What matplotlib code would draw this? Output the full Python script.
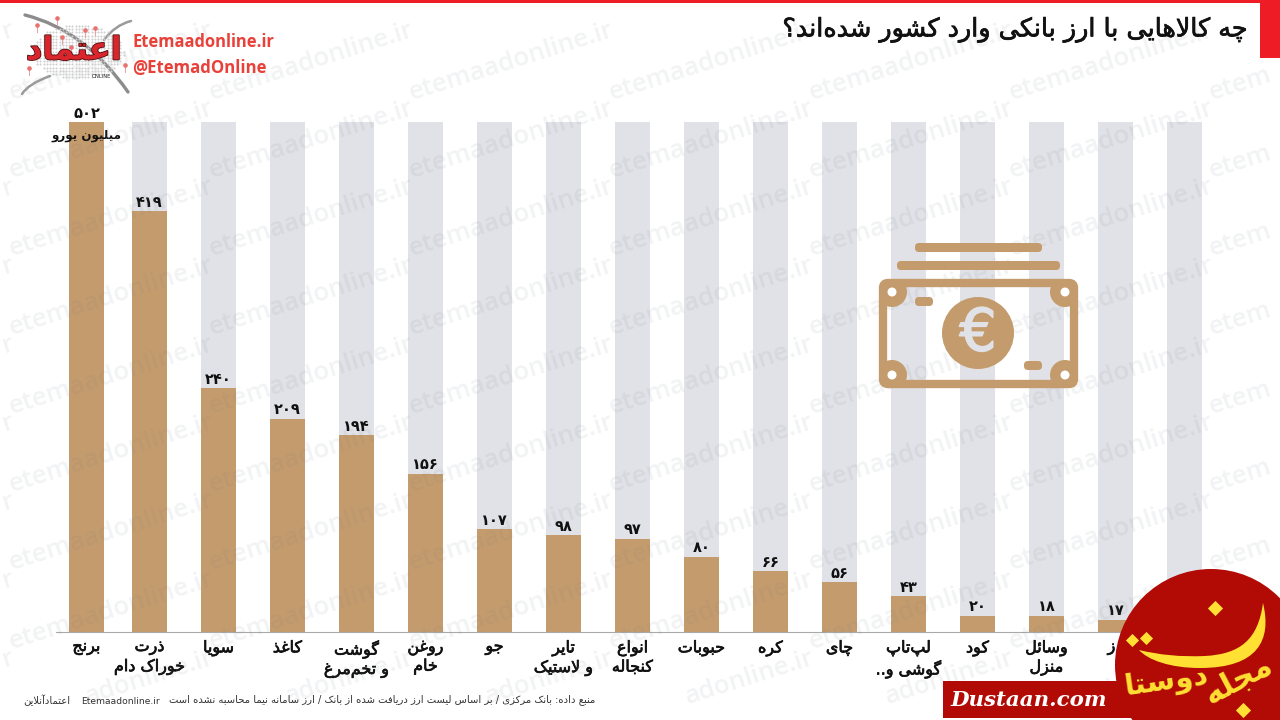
#!/usr/bin/env python3
# coding: utf-8

import numpy as np
import matplotlib
matplotlib.use('Agg')
import matplotlib.pyplot as plt
import matplotlib.patheffects as pe
from matplotlib.font_manager import FontProperties
from matplotlib.patches import Circle, FancyBboxPatch, PathPatch, Rectangle
from matplotlib.path import Path
from matplotlib.textpath import TextPath
from matplotlib.transforms import ScaledTranslation

categories = ['برنج', 'ذرت\nخوراک دام', 'سویا', 'کاغذ', 'گوشت\nو تخم‌مرغ', 'روغن\nخام', 'جو',
              'تایر\nو لاستیک', 'انواع\nکنجاله', 'حبوبات', 'کره', 'چای', 'لپ‌تاپ\nگوشی و..',
              'کود', 'وسائل\nمنزل', 'ز', '']
# numbers printed above the bars
printed_values = [502, 419, 240, 209, 194, 156, 107, 98, 97, 80, 66, 56, 43, 20, 18, 17]
# lengths as drawn in the picture, they differ a little from the printed numbers
bar_lengths = [502, 414, 240, 210, 194, 156, 101, 95, 92, 74, 60, 49, 35, 16, 16, 12]
track_max = 502

title = 'چه کالاهایی با ارز بانکی وارد کشور شده‌اند؟'
unit_label = 'میلیون یورو'
source = 'منبع داده: بانک مرکزی / بر اساس لیست ارز دریافت شده از بانک / ارز سامانه نیما محاسبه نشده است'
watermark = 'etemaadonline.ir'

TAN = '#c49b6c'
GREY = '#e0e2e7'
RED = '#ee1c25'
BADGE = '#b20a05'
YELLOW = '#ffe033'
INK = '#111111'

# iso, final, initial, medial
FORMS = {
    'ا': (0xFE8D, 0xFE8E), 'آ': (0xFE81, 0xFE82), 'د': (0xFEA9, 0xFEAA), 'ذ': (0xFEAB, 0xFEAC),
    'ر': (0xFEAD, 0xFEAE), 'ز': (0xFEAF, 0xFEB0), 'ژ': (0xFB8A, 0xFB8B), 'و': (0xFEED, 0xFEEE),
    'ب': (0xFE8F, 0xFE90, 0xFE91, 0xFE92), 'پ': (0xFB56, 0xFB57, 0xFB58, 0xFB59),
    'ت': (0xFE95, 0xFE96, 0xFE97, 0xFE98), 'ج': (0xFE9D, 0xFE9E, 0xFE9F, 0xFEA0),
    'چ': (0xFB7A, 0xFB7B, 0xFB7C, 0xFB7D), 'ح': (0xFEA1, 0xFEA2, 0xFEA3, 0xFEA4),
    'خ': (0xFEA5, 0xFEA6, 0xFEA7, 0xFEA8), 'س': (0xFEB1, 0xFEB2, 0xFEB3, 0xFEB4),
    'ش': (0xFEB5, 0xFEB6, 0xFEB7, 0xFEB8), 'ع': (0xFEC9, 0xFECA, 0xFECB, 0xFECC),
    'غ': (0xFECD, 0xFECE, 0xFECF, 0xFED0), 'ف': (0xFED1, 0xFED2, 0xFED3, 0xFED4),
    'ق': (0xFED5, 0xFED6, 0xFED7, 0xFED8), 'ک': (0xFB8E, 0xFB8F, 0xFB90, 0xFB91),
    'گ': (0xFB92, 0xFB93, 0xFB94, 0xFB95), 'ل': (0xFEDD, 0xFEDE, 0xFEDF, 0xFEE0),
    'م': (0xFEE1, 0xFEE2, 0xFEE3, 0xFEE4), 'ن': (0xFEE5, 0xFEE6, 0xFEE7, 0xFEE8),
    'ه': (0xFEE9, 0xFEEA, 0xFEEB, 0xFEEC), 'ی': (0xFBFC, 0xFBFD, 0xFBFE, 0xFBFF),
    'ئ': (0xFE89, 0xFE8A, 0xFE8B, 0xFE8C),
}


def shape_line(line):
    # matplotlib has no bidi or joining, so pick the presentation forms by hand and reverse
    line = line.replace('لا', '\uFEFB')
    out = []
    for i, ch in enumerate(line):
        if ch == '\u200c':
            continue
        if ch == '\uFEFB':
            joined = i > 0 and len(FORMS.get(line[i - 1], ())) == 4
            out.append('\uFEFC' if joined else '\uFEFB')
            continue
        forms = FORMS.get(ch)
        if forms is None:
            out.append(ch)
            continue
        prev_joins = i > 0 and len(FORMS.get(line[i - 1], ())) == 4
        next_joins = i + 1 < len(line) and (line[i + 1] in FORMS or line[i + 1] == '\uFEFB')
        if len(forms) == 2:
            out.append(chr(forms[1] if prev_joins else forms[0]))
        elif prev_joins and next_joins:
            out.append(chr(forms[3]))
        elif prev_joins:
            out.append(chr(forms[1]))
        elif next_joins:
            out.append(chr(forms[2]))
        else:
            out.append(chr(forms[0]))
    return ''.join(reversed(out))


def shape(text):
    return '\n'.join(shape_line(part) for part in text.split('\n'))


def fa_digits(number):
    return ''.join(chr(0x06F0 + int(d)) for d in str(number))


def thicken(width):
    return [pe.withStroke(linewidth=width, foreground=INK)]


def draw_chart(fig):
    # axes spans x 56..1204 px and y 122..632 px of the picture, one column is 69 px
    ax = fig.add_axes([56 / 1280, (720 - 632) / 720, (1204 - 56) / 1280, 510 / 720], zorder=1)
    ax.patch.set_alpha(0)
    x_pos = np.arange(len(categories), dtype=float)
    x_pos[0] += 0.087  # first column sits closer to the second one
    ax.bar(x_pos, [track_max] * len(categories), width=0.507, color=GREY)
    ax.bar(x_pos[:len(bar_lengths)], bar_lengths, width=0.507, color=TAN)
    ax.set_xlim((56 - 80.5) / 69, (1204 - 80.5) / 69)
    ax.set_ylim(0, track_max)
    ax.set_yticks([])
    ax.set_xticks(x_pos)
    ax.set_xticklabels([shape(c) for c in categories], fontsize=11.5, linespacing=1.25, color=INK)
    ax.tick_params(axis='x', length=0, pad=6)
    for label in ax.get_xticklabels():
        label.set_path_effects(thicken(0.5))
    # the word under the 16th bar runs behind the badge, only its end shows left of it
    nudge = ScaledTranslation(-4 / 100, 0, fig.dpi_scale_trans)
    last = ax.get_xticklabels()[15]
    last.set_transform(last.get_transform() + nudge)
    for side in ['top', 'left', 'right']:
        ax.spines[side].set_visible(False)
    ax.spines['bottom'].set_color('#a9a9a9')
    ax.spines['bottom'].set_linewidth(0.8)
    for x, length, value in zip(x_pos, bar_lengths, printed_values):
        ax.annotate(fa_digits(value), (x, length), xytext=(0, 1.0), textcoords='offset points',
                    ha='center', va='bottom', fontsize=10.5, fontweight='bold', color=INK,
                    annotation_clip=False)
    ax.annotate(shape(unit_label), (x_pos[0], track_max), xytext=(0, -10),
                textcoords='offset points', ha='center', va='center', fontsize=8.6,
                fontweight='bold', color=INK)
    return ax


def draw_watermark(over):
    size = 18.5
    prop = FontProperties(family='Open Sans', weight='semibold')
    angle = np.radians(17.5)
    dx, dy = np.cos(angle), -np.sin(angle)
    # distance along the baseline to the start of every character
    px = size * 100 / 72
    advance = [0.0] + [TextPath((0, 0), watermark[:i + 1] + '.', size=px, prop=prop).get_extents().width
                       - TextPath((0, 0), '.', size=px, prop=prop).get_extents().width
                       for i in range(len(watermark))]
    for row in range(-2, 11):
        for col in range(-1, 8):
            x0 = col * 200 + 12
            y0 = row * 78.5 + 21
            # a tile that runs over the edge only gets the characters that fit
            keep = [i for i in range(len(watermark))
                    if 3 < x0 + advance[i] * dx and x0 + advance[i + 1] * dx < 1277
                    and 24 < y0 + advance[i + 1] * dy and y0 + advance[i] * dy < 708]
            if not keep:
                continue
            start = keep[0]
            over.text(x0 + advance[start] * dx, y0 + advance[start] * dy,
                      watermark[start:keep[-1] + 1], rotation=17.5, rotation_mode='anchor',
                      ha='left', va='baseline', fontsize=size, fontproperties=prop,
                      color='#7d8590', alpha=0.1, zorder=1)


def stroke(over, verts, color, width, zorder=3):
    codes = [Path.MOVETO] + [Path.CURVE3] * (len(verts) - 1)
    over.add_patch(PathPatch(Path(verts, codes), fc='none', ec=color, lw=width, capstyle='round', zorder=zorder))


def draw_logo(over):
    stroke(over, [(25, 15), (85, 30), (128, 92)], '#8c8c8c', 2.4)
    stroke(over, [(131, 21), (115, 25), (104, 40)], '#9a9a9a', 1.8)
    stroke(over, [(22, 94), (28, 84), (50, 76)], '#9a9a9a', 1.8)
    gx, gy = np.meshgrid(np.arange(34, 126, 3.2), np.arange(26, 84, 3.2))
    inside = ((gx - 78) / 46) ** 2 + ((gy - 52) / 27) ** 2 < 1
    over.scatter(gx[inside], gy[inside], s=2.2, color='#cfcfcf', lw=0, zorder=3)
    for px, py in [(57, 18), (37, 25), (62, 37), (85, 30), (95, 28), (71, 47), (29, 68), (125, 65)]:
        over.plot([px, px], [py, py + 7], color='#e8a0a0', lw=0.7, zorder=3)
        over.scatter([px], [py], s=11, color='#e9726f', lw=0, zorder=3)
    logo = over.text(74, 51, shape('اعتماد'), fontsize=23, fontweight='bold', color='#d9252b',
                     ha='center', va='center', zorder=4)
    logo.set_path_effects([pe.withStroke(linewidth=1.2, foreground='#4a0f10')])
    over.text(101, 77, 'ONLINE', fontsize=3.8, color='#222222', ha='center', va='center', zorder=4)
    over.text(133, 42, 'Etemaadonline.ir', fontsize=11.9, fontweight='bold', family='Open Sans',
              color='#e8413a', ha='left', va='center', zorder=4)
    over.text(132, 68, '@EtemadOnline', fontsize=12.1, fontweight='bold', family='Open Sans',
              color='#e8413a', ha='left', va='center', zorder=4)


def draw_money_icon(over):
    bar = dict(boxstyle='round,pad=0,rounding_size=4', fc=TAN, ec='none', zorder=4)
    over.add_patch(FancyBboxPatch((915, 243), 127, 9, **bar))
    over.add_patch(FancyBboxPatch((897, 261), 163, 9, **bar))
    over.add_patch(FancyBboxPatch((915, 297), 18, 9, **bar))
    over.add_patch(FancyBboxPatch((1024, 361), 18, 9, **bar))
    # corner discs are cut off by the frame, so clip them on a box
    frame = Rectangle((884, 284), 189, 99, fc='none', ec='none', transform=over.transData)
    over.add_patch(frame)
    for cx, cy in [(892, 292), (1065, 292), (892, 375), (1065, 375)]:
        disc = Circle((cx, cy), 15, fc=TAN, ec='none', zorder=4)
        over.add_patch(disc)
        disc.set_clip_path(frame)
        over.add_patch(Circle((cx, cy), 4.5, fc='white', ec='none', zorder=5))
    over.add_patch(FancyBboxPatch((883, 283), 191, 101, boxstyle='round,pad=0,rounding_size=5',
                                  fc='none', ec=TAN, lw=6, zorder=4))
    over.add_patch(Circle((978, 333), 36, fc=TAN, ec='none', zorder=4))
    euro = over.text(978, 334, '€', fontsize=42, color=GREY, ha='center', va='center', zorder=5)
    euro.set_path_effects([pe.withStroke(linewidth=1.2, foreground=GREY)])


def draw_badge(over):
    over.add_patch(Rectangle((943, 681), 220, 37, fc=BADGE, ec='none', zorder=6))
    over.add_patch(Circle((1211, 665), 96, fc=BADGE, ec='none', zorder=6))
    over.text(950, 700, 'Dustaan.com', fontsize=15.4, family='DejaVu Serif', fontstyle='italic',
              fontweight='bold', color='white', ha='left', va='center', zorder=7)
    # the long stroke of the final nun in the calligraphy
    verts = [(1263, 603), (1272, 640), (1258, 668), (1200, 668), (1170, 668), (1148, 660), (1139, 650),
             (1160, 655), (1180, 657), (1205, 656), (1240, 654), (1258, 640), (1263, 603)]
    codes = [Path.MOVETO] + [Path.CURVE4] * 12
    over.add_patch(PathPatch(Path(verts, codes), fc=YELLOW, ec='none', zorder=7))
    over.scatter([1215, 1243], [608, 710], marker='D', s=60, color=YELLOW, lw=0, zorder=7)
    over.scatter([1132, 1146], [640, 638], marker='D', s=45, color=YELLOW, lw=0, zorder=7)
    over.text(1238, 680, shape('مجله'), fontsize=22, fontweight='bold', color=YELLOW, rotation=28,
              ha='center', va='center', zorder=7)
    over.text(1166, 682, shape('دوستا'), fontsize=21, fontweight='bold', color=YELLOW, rotation=8,
              ha='center', va='center', zorder=7)


def main():
    fig = plt.figure(figsize=(12.8, 7.2), dpi=100, facecolor='white')
    draw_chart(fig)

    over = fig.add_axes([0, 0, 1, 1], zorder=2)
    over.set_xlim(0, 1280)
    over.set_ylim(720, 0)
    over.axis('off')

    draw_watermark(over)
    over.add_patch(Rectangle((0, 0), 1280, 3, fc=RED, ec='none', zorder=5))
    over.add_patch(Rectangle((1260, 0), 20, 58, fc=RED, ec='none', zorder=5))
    head = over.text(1248, 30, shape(title), fontsize=18.3, ha='right', va='center', color=INK, zorder=5)
    head.set_path_effects(thicken(0.5))
    draw_logo(over)
    draw_money_icon(over)
    over.text(595, 700, shape(source), fontsize=7.2, ha='right', va='center', color='#333333', zorder=5)
    over.text(81, 701, 'Etemaadonline.ir', fontsize=6.6, ha='left', va='center', color='#333333', zorder=5)
    over.text(70, 700, shape('اعتمادآنلاین'), fontsize=7.2, ha='right', va='center', color='#333333', zorder=5)
    draw_badge(over)

    fig.savefig('out.png', dpi=100)


if __name__ == '__main__':
    main()
